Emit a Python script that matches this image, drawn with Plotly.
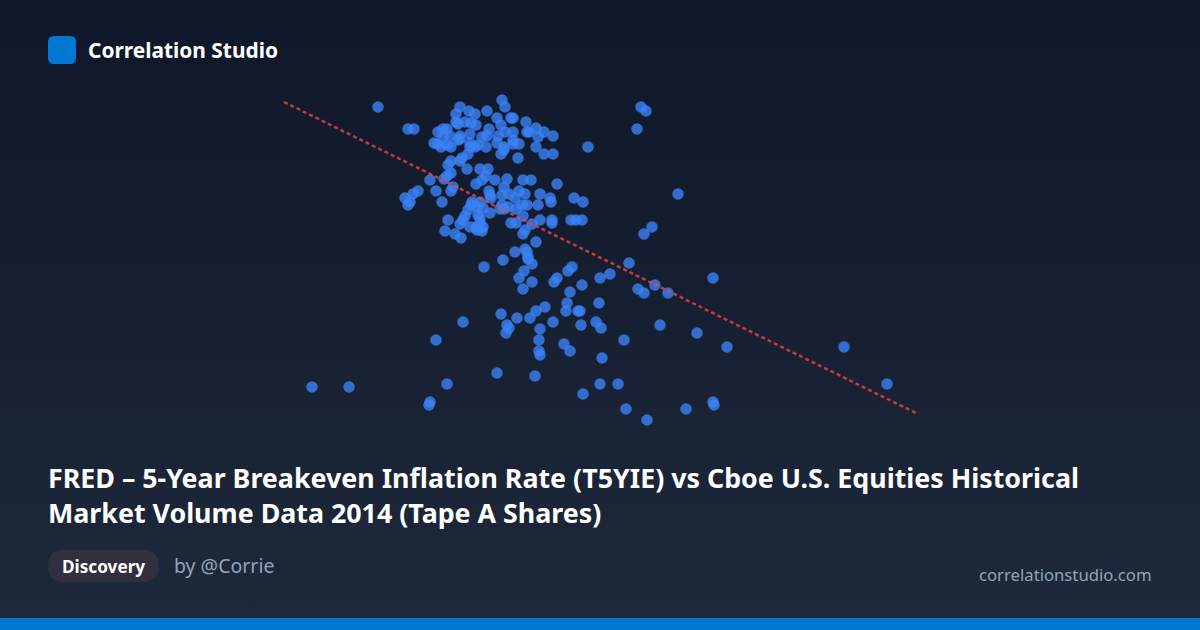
import base64
import plotly.graph_objects as go

# values, the source chart has no axes so the units are its own
x_values = [
    378, 408, 414, 460, 469, 475, 456, 487, 502, 505, 497, 511, 513, 526, 501, 456, 458, 465, 471, 476,
    489, 536, 527, 529, 544, 538, 553, 513, 505, 438, 443, 447, 498, 487, 482, 470, 460, 450, 443, 458,
    460, 434, 437, 441, 447, 451, 470, 478, 475, 486, 497, 513, 513, 519, 504, 501, 504, 536, 544, 553,
    588, 518, 470, 468, 462, 460, 451, 448, 467, 451, 480, 488, 486, 482, 476, 495, 507, 523, 531, 557,
    447, 444, 430, 453, 451, 436, 418, 413, 405, 410, 408, 442, 504, 489, 490, 491, 502, 509, 519, 525,
    515, 540, 550, 551, 574, 583, 472, 480, 471, 502, 500, 504, 508, 516, 522, 527, 538, 477, 483, 468,
    465, 463, 460, 490, 478, 480, 523, 540, 552, 552, 571, 576, 582, 511, 516, 532, 448, 470, 476, 480,
    483, 477, 482, 445, 455, 461, 525, 523, 536, 515, 525, 527, 528, 503, 484, 528, 532, 524, 519, 532,
    523, 572, 568, 557, 554, 582, 570, 600, 567, 566, 578, 580, 599, 545, 536, 530, 517, 501, 553, 581,
    596, 601, 540, 507, 509, 506, 463, 436, 539, 539, 540, 564, 570, 602, 497, 535, 447, 600, 583, 430,
    429, 312, 349, 641, 646, 637, 678, 652, 644, 629, 610, 713, 655, 638, 644, 668, 660, 697, 624, 727,
    844, 618, 887, 626, 686, 713, 714, 647,
]
y_values = [
    107, 129, 129, 107, 111, 114, 114, 111, 100, 107, 118, 118, 118, 122, 125, 122, 124, 122, 123, 125,
    129, 128, 132, 132, 132, 137, 136, 132, 132, 132, 129, 129, 136, 136, 137, 134, 136, 136, 137, 140,
    139, 143, 144, 147, 145, 147, 143, 145, 147, 147, 143, 140, 144, 144, 147, 154, 150, 147, 154, 154,
    147, 158, 147, 154, 158, 161, 161, 165, 169, 173, 169, 169, 176, 180, 184, 180, 179, 180, 180, 184,
    176, 179, 180, 187, 191, 191, 191, 194, 198, 202, 205, 202, 187, 191, 195, 198, 195, 194, 191, 194,
    198, 194, 198, 202, 198, 202, 202, 202, 205, 205, 209, 209, 207, 209, 205, 205, 205, 207, 208, 210,
    216, 220, 224, 213, 215, 218, 216, 220, 220, 223, 220, 220, 220, 223, 223, 224, 220, 227, 227, 223,
    227, 230, 231, 231, 234, 238, 230, 234, 242, 252, 249, 252, 257, 260, 267, 259, 264, 271, 278, 282,
    289, 267, 271, 278, 282, 285, 292, 278, 303, 311, 311, 311, 303, 307, 311, 318, 318, 314, 322, 325,
    322, 328, 329, 325, 328, 333, 322, 340, 340, 351, 355, 344, 351, 358, 373, 376, 384, 384, 394, 402,
    405, 387, 387, 107, 111, 129, 194, 227, 234, 263, 274, 278, 285, 289, 293, 293, 325, 333, 340, 347,
    347, 384, 384, 409, 409, 402, 405, 420,
]
trend_x = [284, 916]
trend_y = [102, 413]

title_lines = [
    'FRED – 5-Year Breakeven Inflation Rate (T5YIE) vs Cboe U.S. Equities Historical',
    'Market Volume Data 2014 (Tape A Shares)',
]

FONT = 'Noto Sans'

gradient = (
    '<svg xmlns="http://www.w3.org/2000/svg" width="1200" height="630">'
    '<defs><linearGradient id="g" x1="0" y1="0" x2="0" y2="1">'
    '<stop offset="0" stop-color="#0f172a"/><stop offset="1" stop-color="#1e293b"/>'
    '</linearGradient></defs><rect width="1200" height="630" fill="url(#g)"/></svg>'
)
gradient_uri = 'data:image/svg+xml;base64,' + base64.b64encode(gradient.encode()).decode()


def label(x, y, text, size, color, anchor='left', bold=False):
    return dict(
        x=x, y=y, xref='x', yref='y', text=text, showarrow=False,
        xanchor=anchor, yanchor='middle', align='left',
        font=dict(family=FONT, size=size, color=color, weight=700 if bold else 400),
    )


fig = go.Figure()

fig.add_trace(go.Scatter(
    x=x_values, y=y_values, mode='markers', hoverinfo='skip',
    marker=dict(size=11.5, color='#3b82f6', opacity=0.8, line=dict(width=0)),
))
fig.add_trace(go.Scatter(
    x=trend_x, y=trend_y, mode='lines', hoverinfo='skip',
    line=dict(color='rgba(239,68,68,0.8)', width=2.5, dash='4px,3px'),
))

fig.update_layout(
    width=1200,
    height=630,
    margin=dict(l=0, r=0, t=0, b=0),
    showlegend=False,
    paper_bgcolor='#0f172a',
    plot_bgcolor='rgba(0,0,0,0)',
    xaxis=dict(range=[0, 1200], visible=False, fixedrange=True),
    yaxis=dict(range=[630, 0], visible=False, fixedrange=True),
    images=[dict(
        source=gradient_uri, xref='paper', yref='paper', x=0, y=1, sizex=1, sizey=1,
        sizing='stretch', xanchor='left', yanchor='top', layer='below',
    )],
    shapes=[
        # logo
        dict(type='path', xref='x', yref='y', line=dict(width=0), fillcolor='#0078d4',
             path='M 54 36 H 70 Q 76 36 76 42 V 58 Q 76 64 70 64 H 54 Q 48 64 48 58 V 42 Q 48 36 54 36 Z'),
        # category pill
        dict(type='path', xref='x', yref='y', line=dict(width=0), fillcolor='#322f3e',
             path='M 64 550 H 143 Q 159 550 159 566 Q 159 582 143 582 H 64 Q 48 582 48 566 Q 48 550 64 550 Z'),
        # bottom bar
        dict(type='rect', xref='x', yref='y', x0=0, x1=1200, y0=618, y1=630,
             line=dict(width=0), fillcolor='#0078d4'),
    ],
    annotations=[
        label(86, 50, 'Correlation Studio', 20.9, '#ffffff', bold=True),
        label(46, 495, '<br>'.join(title_lines), 26.8, '#ffffff', bold=True),
        label(103.5, 566, 'Discovery', 17.2, '#ffffff', anchor='center', bold=True),
        label(172, 565.5, 'by @Corrie', 19.5, '#94a3b8'),
        label(1154, 574, 'correlationstudio.com', 16.7, '#94a3b8', anchor='right'),
    ],
)

fig.write_html(
    'out.html',
    config=dict(displayModeBar=False),
    post_script="document.body.style.margin='0';document.body.style.overflow='hidden';",
)
